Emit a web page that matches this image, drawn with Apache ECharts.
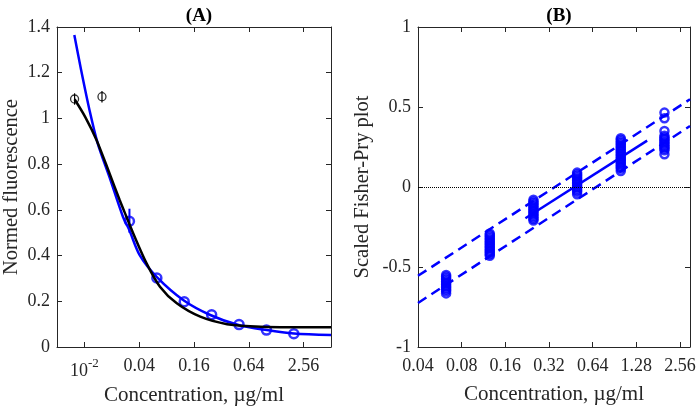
<!DOCTYPE html>
<html>
<head>
<meta charset="utf-8">
<script src="https://cdn.jsdelivr.net/npm/echarts@6/dist/echarts.min.js"></script>
<style>
html, body { margin: 0; padding: 0; background: #fff; }
#main { width: 700px; height: 408px; }
</style>
</head>
<body>
<div id="main"></div>
<script>
var lg = Math.log2;

// (A) dose response, concentration in ug/ml
var measConc = [0.03125, 0.0625, 0.125, 0.25, 0.5, 1, 2];
var measValue = [0.55, 0.302, 0.198, 0.141, 0.098, 0.074, 0.058];
var outlierConc = [0.0078, 0.0156];
var outlierValue = [1.085, 1.095];
var outlierErrLow = [1.06, 1.07];
var outlierErrHigh = [1.11, 1.12];
var measErrConc = [0.03125];
var measErrLow = [0.50];
var measErrHigh = [0.605];

// fitted curves
var blueCurveConc = [0.00775, 0.0092, 0.01137, 0.014, 0.01894, 0.02651, 0.0309, 0.04049, 0.0626, 0.1216, 0.2415, 0.4934, 1.007, 2.004, 5.12];
var blueCurveValue = [1.365, 1.212, 1.037, 0.891, 0.741, 0.570, 0.515, 0.402, 0.306, 0.206, 0.140, 0.096, 0.074, 0.059, 0.052];
var blackCurveConc = [0.0078, 0.01026, 0.01358, 0.01894, 0.0244, 0.02895, 0.03424, 0.04822, 0.06763, 0.1035, 0.1875, 0.3697, 0.8644, 5.12];
var blackCurveValue = [1.084, 1.005, 0.906, 0.758, 0.643, 0.570, 0.499, 0.366, 0.264, 0.191, 0.1325, 0.100, 0.089, 0.086];

var leftTickConc = [0.01, 0.04, 0.16, 0.64, 2.56];
var leftTickLabels = ['{b|10}{sup|-2}', '0.04', '0.16', '0.64', '2.56'];

// (B) scaled Fisher-Pry values
var fpConc = [0.0625, 0.125, 0.25, 0.5, 1, 2];
var fpValues = [
    [-0.55, -0.56, -0.57, -0.58, -0.59, -0.6, -0.61, -0.62, -0.63, -0.64, -0.65, -0.665],
    [-0.29, -0.3, -0.31, -0.32, -0.33, -0.34, -0.35, -0.36, -0.37, -0.38, -0.39, -0.4, -0.41, -0.42, -0.43],
    [-0.08, -0.09, -0.1, -0.11, -0.12, -0.13, -0.14, -0.15, -0.16, -0.17, -0.18, -0.19, -0.2, -0.21],
    [0.09, 0.08, 0.07, 0.06, 0.05, 0.04, 0.03, 0.02, 0.01, 0, -0.01, -0.02, -0.03, -0.045],
    [0.305, 0.295, 0.285, 0.275, 0.265, 0.255, 0.245, 0.235, 0.225, 0.215, 0.205, 0.195, 0.185, 0.175, 0.165, 0.155, 0.145, 0.135, 0.125, 0.115, 0.1],
    [0.465, 0.43, 0.35, 0.32, 0.31, 0.3, 0.29, 0.28, 0.27, 0.26, 0.25, 0.24, 0.23, 0.205]
];
var fitConc = [0.22, 1.52];
var fitValue = [-0.195, 0.29];
var bandConc = [0.04, 3.0];
var bandUpper = [-0.555, 0.548];
var bandLower = [-0.725, 0.381];

var rightTickConc = [0.04, 0.08, 0.16, 0.32, 0.64, 1.28, 2.56];
var rightTickLabels = ['0.04', '0.08', '0.16', '0.32', '0.64', '1.28', '2.56'];

var font = 'Liberation Serif';
var ink = '#262626';

function pairs(xs, ys) {
    return xs.map(function (x, i) { return [lg(x), ys[i]]; });
}

function xAxisFor(grid, min, max, ticks, labels, top) {
    var vals = ticks.map(lg);
    return {
        type: 'value',
        gridIndex: grid,
        position: top ? 'top' : 'bottom',
        min: lg(min),
        max: lg(max),
        axisLine: { show: true, onZero: false, lineStyle: { color: ink, width: 1 } },
        axisTick: { show: true, inside: true, length: 5, customValues: vals, lineStyle: { color: ink } },
        axisLabel: {
            show: !top,
            customValues: vals,
            margin: 10,
            color: ink,
            fontFamily: font,
            fontSize: 18,
            formatter: function (v) {
                for (var i = 0; i < vals.length; i++) {
                    if (Math.abs(vals[i] - v) < 1e-6) return labels[i];
                }
                return '';
            },
            rich: {
                b: { fontFamily: font, fontSize: 18, color: ink, verticalAlign: 'bottom', lineHeight: 23 },
                sup: { fontFamily: font, fontSize: 13, color: ink, verticalAlign: 'top', lineHeight: 13 }
            }
        },
        splitLine: { show: false },
        name: top ? '' : 'Concentration, µg/ml',
        nameLocation: 'middle',
        nameGap: 37,
        nameTextStyle: { color: ink, fontFamily: font, fontSize: 21 }
    };
}

function yAxisFor(grid, min, max, interval, name, nameGap, right) {
    return {
        type: 'value',
        gridIndex: grid,
        position: right ? 'right' : 'left',
        min: min,
        max: max,
        interval: interval,
        axisLine: { show: true, onZero: false, lineStyle: { color: ink, width: 1 } },
        axisTick: { show: true, inside: true, length: 5, lineStyle: { color: ink } },
        axisLabel: { show: !right, margin: 7, color: ink, fontFamily: font, fontSize: 18 },
        splitLine: { show: false },
        name: right ? '' : name,
        nameLocation: 'middle',
        nameGap: nameGap,
        nameTextStyle: { color: ink, fontFamily: font, fontSize: 20.5 }
    };
}

function errorBars(xIndex, yIndex, xs, lo, hi, color, width) {
    return {
        type: 'custom',
        xAxisIndex: xIndex,
        yAxisIndex: yIndex,
        silent: true,
        data: xs.map(function (x, i) { return [lg(x), lo[i], hi[i]]; }),
        renderItem: function (params, api) {
            var a = api.coord([api.value(0), api.value(1)]);
            var b = api.coord([api.value(0), api.value(2)]);
            return {
                type: 'line',
                shape: { x1: a[0], y1: a[1], x2: b[0], y2: b[1] },
                style: { stroke: color, lineWidth: width }
            };
        }
    };
}

var fpPoints = [];
fpConc.forEach(function (c, i) {
    fpValues[i].forEach(function (v) { fpPoints.push([lg(c), v]); });
});

var chart = echarts.init(document.getElementById('main'), null, { renderer: 'canvas' });

var option = {
    animation: false,
    backgroundColor: '#fff',
    title: [
        { text: '(A)', left: 194, top: 2, textAlign: 'center', textStyle: { fontFamily: font, fontSize: 19, fontWeight: 'bold', color: '#000' } },
        { text: '(B)', left: 554, top: 2, textAlign: 'center', textStyle: { fontFamily: font, fontSize: 19, fontWeight: 'bold', color: '#000' } }
    ],
    grid: [
        { left: 57, top: 27, width: 274, height: 320, outerBoundsMode: 'none', containLabel: false },
        { left: 418, top: 27, width: 272, height: 320, outerBoundsMode: 'none', containLabel: false }
    ],
    xAxis: [
        xAxisFor(0, 0.005, 5.12, leftTickConc, leftTickLabels, false),
        xAxisFor(0, 0.005, 5.12, leftTickConc, leftTickLabels, true),
        xAxisFor(1, 0.04, 3.0, rightTickConc, rightTickLabels, false),
        xAxisFor(1, 0.04, 3.0, rightTickConc, rightTickLabels, true)
    ],
    yAxis: [
        yAxisFor(0, 0, 1.4, 0.2, 'Normed fluorescence', 35, false),
        yAxisFor(0, 0, 1.4, 0.2, '', 0, true),
        yAxisFor(1, -1, 1, 0.5, 'Scaled Fisher-Pry plot', 45, false),
        yAxisFor(1, -1, 1, 0.5, '', 0, true)
    ],
    series: [
        {
            type: 'line', xAxisIndex: 0, yAxisIndex: 0, smooth: 0.3, showSymbol: false, silent: true,
            data: pairs(blueCurveConc, blueCurveValue),
            lineStyle: { color: '#0000ff', width: 2.5 }
        },
        {
            type: 'line', xAxisIndex: 0, yAxisIndex: 0, smooth: 0.3, showSymbol: false, silent: true,
            data: pairs(blackCurveConc, blackCurveValue),
            lineStyle: { color: '#000', width: 2.5 }
        },
        errorBars(0, 0, measErrConc, measErrLow, measErrHigh, '#0000ff', 2),
        errorBars(0, 0, outlierConc, outlierErrLow, outlierErrHigh, '#000', 1.2),
        {
            type: 'scatter', xAxisIndex: 0, yAxisIndex: 0, silent: true,
            symbol: 'circle', symbolSize: 9,
            data: pairs(measConc, measValue),
            itemStyle: { color: 'rgba(0,0,0,0)', borderColor: '#0000ff', borderWidth: 2.5 }
        },
        {
            type: 'scatter', xAxisIndex: 0, yAxisIndex: 0, silent: true,
            symbol: 'circle', symbolSize: 8,
            data: pairs(outlierConc, outlierValue),
            itemStyle: { color: 'rgba(0,0,0,0)', borderColor: '#000', borderWidth: 1.3 }
        },
        {
            type: 'line', xAxisIndex: 2, yAxisIndex: 2, showSymbol: false, silent: true,
            data: pairs(bandConc, bandUpper),
            lineStyle: { color: '#0000ff', width: 2.5, type: [10, 6] }
        },
        {
            type: 'line', xAxisIndex: 2, yAxisIndex: 2, showSymbol: false, silent: true,
            data: pairs(bandConc, bandLower),
            lineStyle: { color: '#0000ff', width: 2.5, type: [10, 6] }
        },
        {
            type: 'line', xAxisIndex: 2, yAxisIndex: 2, showSymbol: false, silent: true,
            data: pairs(fitConc, fitValue),
            lineStyle: { color: '#0000ff', width: 2.5 }
        },
        {
            type: 'scatter', xAxisIndex: 2, yAxisIndex: 2, silent: true,
            symbol: 'circle', symbolSize: 8,
            data: fpPoints,
            itemStyle: { color: 'rgba(0,0,0,0)', borderColor: '#0000ff', borderWidth: 2.5 },
            markLine: {
                silent: true,
                symbol: 'none',
                label: { show: false },
                lineStyle: { color: '#000', width: 1, type: [1, 1] },
                data: [{ yAxis: 0 }]
            }
        }
    ]
};

chart.setOption(option);
</script>
</body>
</html>
